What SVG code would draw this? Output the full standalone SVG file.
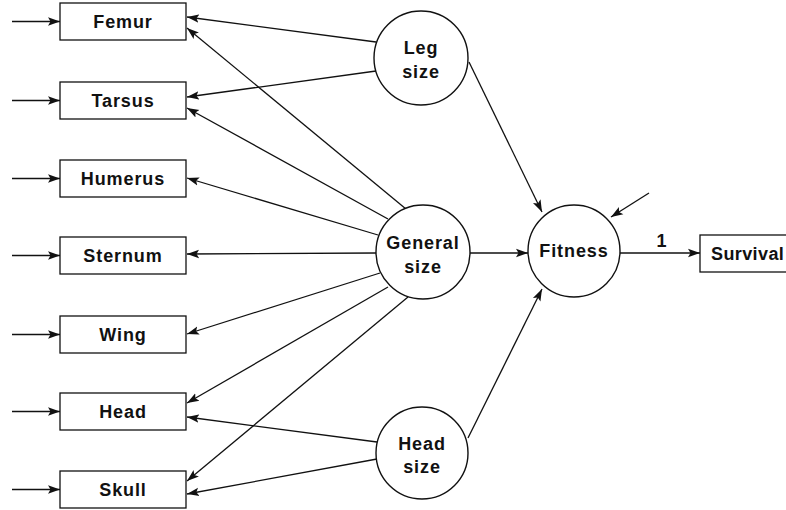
<svg xmlns="http://www.w3.org/2000/svg" width="786" height="510" viewBox="0 0 786 510">
<style>
.box{fill:#fff;stroke:#111;stroke-width:1.3}
.circ{fill:#fff;stroke:#111;stroke-width:1.4}
.lbl{font-family:"Liberation Sans",Arial,sans-serif;font-weight:bold;font-size:18px;letter-spacing:0.9px;fill:#111;text-anchor:middle}
.edge{stroke:#111;stroke-width:1.3;fill:none;marker-end:url(#ah)}
</style>
<defs>
<marker id="ah" markerUnits="userSpaceOnUse" markerWidth="14" markerHeight="10" refX="12" refY="5" orient="auto">
<path d="M0,0.8 L12,5 L0,9.2 L2.5,5 Z" fill="#111"/>
</marker>
</defs>
<g id="connectors">
<line class="edge" x1="12" y1="21.5" x2="60" y2="21.5"/>
<line class="edge" x1="12" y1="100.5" x2="60" y2="100.5"/>
<line class="edge" x1="12" y1="178.5" x2="60" y2="178.5"/>
<line class="edge" x1="12" y1="255.5" x2="60" y2="255.5"/>
<line class="edge" x1="12" y1="334.5" x2="60" y2="334.5"/>
<line class="edge" x1="12" y1="411.5" x2="60" y2="411.5"/>
<line class="edge" x1="12" y1="489.5" x2="60" y2="489.5"/>
<line class="edge" x1="376" y1="42" x2="187" y2="17"/>
<line class="edge" x1="376" y1="71" x2="187" y2="97"/>
<line class="edge" x1="406" y1="209" x2="187" y2="28"/>
<line class="edge" x1="388" y1="219" x2="187" y2="108"/>
<line class="edge" x1="378" y1="235" x2="187" y2="178"/>
<line class="edge" x1="376" y1="253" x2="187" y2="254"/>
<line class="edge" x1="380" y1="273" x2="187" y2="334"/>
<line class="edge" x1="388" y1="287" x2="187" y2="403"/>
<line class="edge" x1="408" y1="297" x2="187" y2="481"/>
<line class="edge" x1="377" y1="442" x2="187" y2="417"/>
<line class="edge" x1="377" y1="459" x2="187" y2="494"/>
<line class="edge" x1="470" y1="253" x2="528" y2="253"/>
<line class="edge" x1="469" y1="62" x2="542" y2="212"/>
<line class="edge" x1="468" y1="438" x2="542" y2="289"/>
<line class="edge" x1="649" y1="193" x2="611" y2="217"/>
<line class="edge" x1="620" y1="253" x2="700" y2="253"/>
<text class="lbl" x="662" y="247">1</text>
</g>
<g id="femur"><rect class="box" x="60" y="3" width="126" height="37"/><text class="lbl" x="123" y="28">Femur</text></g>
<g id="tarsus"><rect class="box" x="60" y="82" width="126" height="37"/><text class="lbl" x="123" y="107">Tarsus</text></g>
<g id="humerus"><rect class="box" x="60" y="160" width="126" height="37"/><text class="lbl" x="123" y="185">Humerus</text></g>
<g id="sternum"><rect class="box" x="60" y="237" width="126" height="37"/><text class="lbl" x="123" y="262">Sternum</text></g>
<g id="wing"><rect class="box" x="60" y="316" width="126" height="37"/><text class="lbl" x="123" y="341">Wing</text></g>
<g id="head"><rect class="box" x="60" y="393" width="126" height="37"/><text class="lbl" x="123" y="418">Head</text></g>
<g id="skull"><rect class="box" x="60" y="471" width="126" height="37"/><text class="lbl" x="123" y="496">Skull</text></g>
<g id="legsize"><circle class="circ" cx="421" cy="58" r="47"/><text class="lbl" x="421" y="54">Leg</text><text class="lbl" x="421" y="78">size</text></g>
<g id="generalsize"><circle class="circ" cx="423" cy="252" r="47"/><text class="lbl" x="423" y="249">General</text><text class="lbl" x="423" y="273">size</text></g>
<g id="headsize"><circle class="circ" cx="422" cy="453" r="46"/><text class="lbl" x="422" y="450">Head</text><text class="lbl" x="422" y="473">size</text></g>
<g id="fitness"><circle class="circ" cx="574" cy="251" r="46"/><text class="lbl" x="574" y="257">Fitness</text></g>
<g id="survival"><rect class="box" x="700" y="235" width="92" height="37"/><text class="lbl" x="711" y="260" style="text-anchor:start;letter-spacing:0.4px">Survival</text></g>
</svg>
